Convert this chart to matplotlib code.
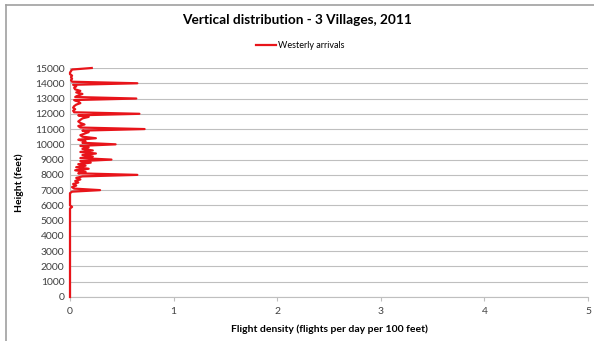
import matplotlib
matplotlib.use("Agg")
import matplotlib.pyplot as plt
from matplotlib.lines import Line2D

# heights in feet, 100 ft steps
heights = list(range(0, 15100, 100))

# flight density values, 0..5800 ft are zero
low_zero = [0.0] * 59
# explicit values from 5900 ft to 15000 ft
density_5900_up = [
    0.02, 0.00, 0.00, 0.00, 0.00, 0.00, 0.00, 0.00, 0.00, 0.00,  # 5900-6800
    0.02, 0.29, 0.04, 0.02, 0.06, 0.03, 0.08, 0.05, 0.10, 0.06,  # 6900-7800
    0.12, 0.65, 0.08, 0.15, 0.05, 0.18, 0.06, 0.15, 0.08, 0.20,  # 7900-8800
    0.10, 0.40, 0.10, 0.22, 0.12, 0.25, 0.10, 0.22, 0.12, 0.18,  # 8900-9800
    0.10, 0.44, 0.12, 0.15, 0.08, 0.25, 0.12, 0.10, 0.14, 0.18,  # 9900-10800
    0.12, 0.72, 0.10, 0.08, 0.14, 0.10, 0.08, 0.10, 0.12, 0.18,  # 10900-11800
    0.08, 0.67, 0.04, 0.03, 0.05, 0.03, 0.04, 0.06, 0.10, 0.08,  # 11900-12800
    0.04, 0.64, 0.05, 0.08, 0.12, 0.06, 0.10, 0.05, 0.04, 0.06,  # 12900-13800
    0.03, 0.65, 0.02, 0.01, 0.02, 0.01, 0.02, 0.00, 0.00, 0.01,  # 13900-14800
    0.02, 0.21,                                                  # 14900-15000
]
density = low_zero + density_5900_up

x_ticks = [0, 1, 2, 3, 4, 5]
y_ticks = list(range(0, 16000, 1000))

plt.rcParams['font.family'] = ['Lato', 'DejaVu Sans']

fig = plt.figure(figsize=(5.94, 3.41), dpi=100)
ax = fig.add_axes([70 / 594, 1 - 297 / 341, 518 / 594, 229 / 341])

ax.plot(density, heights, color='#e8141a', lw=1.6, label='Westerly arrivals',
        solid_joinstyle='round', clip_on=False, zorder=5)

ax.set_xlim(0, 5)
ax.set_ylim(0, 15000)
ax.set_xticks(x_ticks)
ax.set_yticks(y_ticks)
ax.tick_params(axis='both', labelsize=7.5, colors='#404040', length=0, pad=4)
ax.tick_params(axis='x', length=3, color='#bfbfbf', direction='out')
ax.grid(axis='y', color='#bfbfbf', lw=0.8)
ax.set_axisbelow(True)
for s in ['top', 'right']:
    ax.spines[s].set_visible(False)
for s in ['left', 'bottom']:
    ax.spines[s].set_color('#bfbfbf')
    ax.spines[s].set_linewidth(0.8)

ax.set_xlabel('Flight density (flights per day per 100 feet)', fontsize=7.5,
              fontweight='bold', labelpad=6)
ax.set_ylabel('Height (feet)', fontsize=7.5, fontweight='bold', labelpad=8)

fig.text(0.5, 1 - 20 / 341, 'Vertical distribution - 3 Villages, 2011',
         ha='center', va='center', fontsize=9.8, fontweight='bold')
ax.legend(loc='center', bbox_to_anchor=(300 / 594, 1 - 46 / 341),
          bbox_transform=fig.transFigure, frameon=False, fontsize=6.5,
          handlelength=2.2, handletextpad=0.2)

# outer frame (top and left only)
fig.add_artist(Line2D([6 / 594, 1], [1 - 5 / 341, 1 - 5 / 341],
                      color='#a0a0a0', lw=1.2, transform=fig.transFigure))
fig.add_artist(Line2D([6 / 594, 6 / 594], [0, 1 - 5 / 341],
                      color='#a0a0a0', lw=1.2, transform=fig.transFigure))

fig.savefig('out.png', dpi=100)
